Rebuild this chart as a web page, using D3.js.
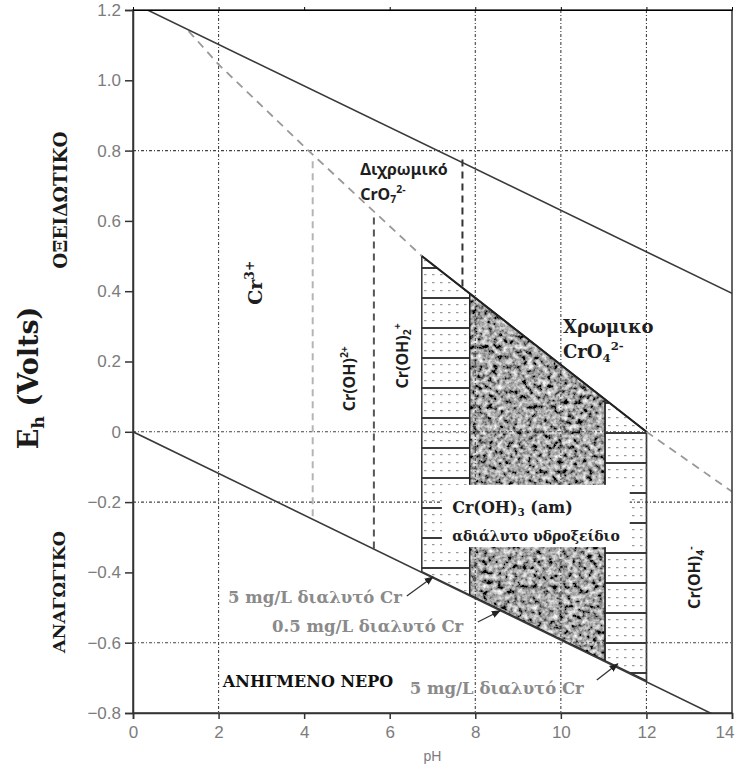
<!DOCTYPE html>
<html>
<head>
<meta charset="utf-8">
<script src="https://cdn.jsdelivr.net/npm/d3@7"></script>
<style>
  body { margin: 0; background: #fff; }
  svg { display: block; }
</style>
</head>
<body>
<svg id="chart" width="735" height="765"></svg>
<script>
// axes
const phTicks = [0, 2, 4, 6, 8, 10, 12, 14];
const ehTicks = [-0.8, -0.6, -0.4, -0.2, 0, 0.2, 0.4, 0.6, 0.8, 1.0, 1.2];
const phGrid = [2, 8, 10, 12];
const ehGrid = [0.8, 0, -0.2, -0.6];

// water stability limits, [pH, Eh]
const waterUpper = [[0, 1.22], [14, 0.394]];
const waterLower = [[0, 0], [14, -0.83]];

// Cr(III) / Cr(VI) boundary (dashed parts and the solid edge of the solid field)
const boundaryLeft = [[1.3, 1.14], [2, 1.045], [4.1, 0.80], [6.75, 0.50]];
const boundaryTop = [[6.75, 0.50], [12, 0]];
const boundaryRight = [[12, 0], [14, -0.17]];

// vertical species boundaries
const phLines = [
    {ph: 4.2, top: 0.77, bottom: -0.248, color: '#b5b5b5'},
    {ph: 5.63, top: 0.61, bottom: -0.332, color: '#555'},
    {ph: 7.7, top: 0.775, bottom: 0.41, color: '#333'}
];

// Cr(OH)3 fields: 5 mg/L outer field, 0.5 mg/L inner field
const field5 = [[6.75, 0.50], [6.75, -0.398], [12, -0.708], [12, 0]];
const field5Right = [[11.03, 0.092], [11.03, -0.651], [12, -0.708], [12, 0]];
const field05 = [[7.87, 0.393], [7.87, -0.464], [11.03, -0.651], [11.03, 0.092]];
const labelBox = [[7.22, -0.151], [11.61, -0.328]];

// species labels inside the plot
const species = [
    {text: 'Cr^{3+}', ph: 2.87, eh: 0.424, rot: true, font: 'serif', size: 19},
    {text: 'Cr(OH)^{2+}', ph: 5.05, eh: 0.151, rot: true, font: 'sans', size: 16},
    {text: 'Cr(OH)_{2}^{+}', ph: 6.29, eh: 0.216, rot: true, font: 'sans', size: 16},
    {text: 'Διχρωμικό', ph: 5.31, eh: 0.731, font: 'sans', size: 16},
    {text: 'CrO_{7}^{2-}', ph: 5.31, eh: 0.66, font: 'sans', size: 16},
    {text: 'Χρωμικο', ph: 10.05, eh: 0.282, font: 'serif', size: 18},
    {text: 'CrO_{4}^{2-}', ph: 10.05, eh: 0.211, font: 'serif', size: 18},
    {text: 'Cr(OH)_{3} (am)', ph: 7.46, eh: -0.23, font: 'serif', size: 16},
    {text: 'αδιάλυτο υδροξείδιο', ph: 7.46, eh: -0.31, font: 'serif', size: 14},
    {text: 'Cr(OH)_{4}^{-}', ph: 13.13, eh: -0.415, rot: true, font: 'sans', size: 16}
];

// concentration notes with arrows
const notes = [
    {text: '5 mg/L διαλυτό Cr', ph: 2.22, eh: -0.486, from: [6.40, -0.467], to: [7.01, -0.413]},
    {text: '0.5 mg/L διαλυτό Cr', ph: 3.25, eh: -0.569, from: [8.06, -0.541], to: [8.58, -0.509]},
    {text: '5 mg/L διαλυτό Cr', ph: 6.47, eh: -0.745, from: [10.84, -0.706], to: [11.33, -0.66]}
];

const fonts = {
    serif: "'DejaVu Serif', serif",
    sans: "'Noto Sans', 'DejaVu Sans', sans-serif"
};

// text with _{sub} and ^{sup} parts
function richText(sel, str, size) {
    const re = /([_^])\{([^}]*)\}|([^_^]+)/g;
    let m, shift = 0;
    while ((m = re.exec(str))) {
        if (m[3]) {
            sel.append('tspan').attr('dy', -shift).text(m[3]);
            shift = 0;
        } else {
            const d = m[1] === '^' ? -0.42 * size : 0.22 * size;
            sel.append('tspan').attr('dy', d - shift).attr('font-size', size * 0.65).text(m[2]);
            shift = d;
        }
    }
}

function drawChart() {
    const svg = d3.select('#chart');
    const margin = {top: 10, right: 3, bottom: 52, left: 133};
    const width = +svg.attr('width') - margin.left - margin.right;
    const height = +svg.attr('height') - margin.top - margin.bottom;

    const x = d3.scaleLinear().domain([0, 14]).range([0, width]);
    const y = d3.scaleLinear().domain([-0.8, 1.2]).range([height, 0]);
    const line = d3.line().x(d => x(d[0])).y(d => y(d[1]));

    const defs = svg.append('defs');
    defs.append('clipPath').attr('id', 'plot-clip')
        .append('rect').attr('width', width).attr('height', height);

    // dotted pattern with horizontal rules, two phases
    [['band-l', 298 - margin.top], ['band-r', 433 - margin.top]].forEach(([id, off]) => {
        const p = defs.append('pattern').attr('id', id)
            .attr('patternUnits', 'userSpaceOnUse')
            .attr('width', 8).attr('height', 30)
            .attr('y', off % 30);
        p.append('rect').attr('width', 8).attr('height', 30).attr('fill', '#fff');
        [6, 14, 22].forEach(dy => p.append('rect')
            .attr('x', 3).attr('y', dy).attr('width', 2.5).attr('height', 1.2).attr('fill', '#999'));
        p.append('rect').attr('y', -1).attr('width', 8).attr('height', 2).attr('fill', '#3a3a3a');
        p.append('rect').attr('y', 29).attr('width', 8).attr('height', 1).attr('fill', '#3a3a3a');
    });

    // stony texture for the inner field
    const f = defs.append('filter').attr('id', 'rock')
        .attr('x', 0).attr('y', 0).attr('width', 1).attr('height', 1);
    f.append('feTurbulence').attr('type', 'fractalNoise')
        .attr('baseFrequency', 0.2).attr('numOctaves', 3).attr('seed', 7).attr('result', 'noise');
    f.append('feColorMatrix').attr('in', 'noise').attr('type', 'matrix')
        .attr('values', '1.7 0 0 0 -0.47  1.7 0 0 0 -0.47  1.7 0 0 0 -0.47  0 0 0 0 1')
        .attr('result', 'gray');
    f.append('feComposite').attr('in', 'gray').attr('in2', 'SourceGraphic').attr('operator', 'in');

    defs.append('marker').attr('id', 'arrow')
        .attr('viewBox', '0 0 10 10').attr('refX', 9).attr('refY', 5)
        .attr('markerWidth', 7).attr('markerHeight', 7)
        .attr('orient', 'auto')
        .append('path').attr('d', 'M0,1 L10,5 L0,9 Z').attr('fill', '#222');

    const g = svg.append('g')
        .attr('transform', `translate(${margin.left},${margin.top})`);
    const plot = g.append('g').attr('clip-path', 'url(#plot-clip)');

    // fields
    plot.append('path').attr('d', line(field5) + 'Z')
        .attr('fill', 'url(#band-l)').attr('stroke', '#333').attr('stroke-width', 1.5);
    plot.append('path').attr('d', line(field5Right) + 'Z')
        .attr('fill', 'url(#band-r)').attr('stroke', '#333').attr('stroke-width', 1.5);
    plot.append('path').attr('d', line(field05) + 'Z')
        .attr('fill', '#000').attr('filter', 'url(#rock)');
    plot.append('path').attr('d', line(field05) + 'Z')
        .attr('fill', 'none').attr('stroke', '#222').attr('stroke-width', 1.5);

    // grid
    plot.selectAll('.vgrid').data(phGrid).enter().append('line')
        .attr('x1', d => x(d)).attr('x2', d => x(d))
        .attr('y1', 0).attr('y2', height)
        .attr('stroke', '#444').attr('stroke-width', 1.1).attr('stroke-dasharray', '3,2,1,2');
    plot.selectAll('.hgrid').data(ehGrid).enter().append('line')
        .attr('x1', 0).attr('x2', width)
        .attr('y1', d => y(d)).attr('y2', d => y(d))
        .attr('stroke', '#444').attr('stroke-width', 1.1).attr('stroke-dasharray', '3,2,1,2');

    // boundaries
    plot.append('path').attr('d', line(boundaryLeft)).attr('fill', 'none')
        .attr('stroke', '#999').attr('stroke-width', 1.8).attr('stroke-dasharray', '8,6');
    plot.append('path').attr('d', line(boundaryRight)).attr('fill', 'none')
        .attr('stroke', '#999').attr('stroke-width', 1.8).attr('stroke-dasharray', '8,6');
    plot.append('path').attr('d', line(boundaryTop)).attr('fill', 'none')
        .attr('stroke', '#222').attr('stroke-width', 2);
    plot.selectAll('.phline').data(phLines).enter().append('line')
        .attr('x1', d => x(d.ph)).attr('x2', d => x(d.ph))
        .attr('y1', d => y(d.top)).attr('y2', d => y(d.bottom))
        .attr('stroke', d => d.color).attr('stroke-width', 2).attr('stroke-dasharray', '7,5');

    [waterUpper, waterLower].forEach(w => plot.append('path').attr('d', line(w))
        .attr('fill', 'none').attr('stroke', '#3a3a3a').attr('stroke-width', 1.6));

    // white box behind the Cr(OH)3 label
    plot.append('rect')
        .attr('x', x(labelBox[0][0])).attr('y', y(labelBox[0][1]))
        .attr('width', x(labelBox[1][0]) - x(labelBox[0][0]))
        .attr('height', y(labelBox[1][1]) - y(labelBox[0][1]))
        .attr('fill', '#fff');

    // frame and axes
    g.append('rect').attr('width', width).attr('height', height)
        .attr('fill', 'none').attr('stroke', '#333').attr('stroke-width', 1.5);

    const yAxis = g.append('g')
        .call(d3.axisLeft(y).tickValues(ehTicks).tickSize(8).tickPadding(4)
            .tickFormat(d => d === 0 ? '0' : d3.format('.1f')(d)));
    const xAxis = g.append('g')
        .attr('transform', `translate(0,${height})`)
        .call(d3.axisBottom(x).tickValues(phTicks).tickSize(6).tickPadding(7));
    g.append('g').call(d3.axisTop(x).tickValues(phTicks).tickSize(3).tickFormat(''));
    [yAxis, xAxis].forEach(a => {
        a.select('.domain').attr('stroke', '#333').attr('stroke-width', 1.5);
        a.selectAll('.tick line').attr('stroke', '#333').attr('stroke-width', 1.5);
        a.selectAll('text').attr('fill', '#7c7c7c')
            .style('font-family', "'Liberation Sans', Arial, sans-serif").style('font-size', '17px');
    });
    // last pH label sits on the right edge
    xAxis.selectAll('.tick text').filter(d => d === 14).attr('text-anchor', 'end').attr('x', 2);

    g.append('text')
        .attr('x', x(7)).attr('y', height + 48)
        .attr('text-anchor', 'middle').attr('fill', '#7c7c7c')
        .style('font-family', "'Liberation Sans', Arial, sans-serif").style('font-size', '14px')
        .text('pH');

    // species labels
    species.forEach(s => {
        const t = g.append('text')
            .attr('fill', '#1e1e1e')
            .attr('font-weight', 'bold')
            .style('font-family', fonts[s.font])
            .style('font-size', s.size + 'px');
        if (s.rot) {
            t.attr('transform', `translate(${x(s.ph)},${y(s.eh)}) rotate(-90)`)
                .attr('text-anchor', 'middle')
                .attr('y', s.size * 0.35);
        } else {
            t.attr('x', x(s.ph)).attr('y', y(s.eh));
        }
        richText(t, s.text, s.size);
    });

    // concentration notes
    notes.forEach(n => {
        g.append('text')
            .attr('x', x(n.ph)).attr('y', y(n.eh))
            .attr('fill', '#8a8a8a').attr('font-weight', 'bold')
            .style('font-family', fonts.serif).style('font-size', '16.5px')
            .text(n.text);
        g.append('path').attr('d', line([n.from, n.to]))
            .attr('stroke', '#333').attr('stroke-width', 1.3)
            .attr('marker-end', 'url(#arrow)');
    });

    g.append('text')
        .attr('x', x(2.1)).attr('y', y(-0.725))
        .attr('fill', '#111').attr('font-weight', 'bold')
        .style('font-family', fonts.serif).style('font-size', '16px')
        .text('ΑΝΗΓΜΕΝΟ ΝΕΡΟ');

    // side titles
    const side = [
        {text: 'ΟΞΕΙΔΩΤΙΚΟ', x: 61, y: 200, size: 18.5},
        {text: 'E_{h} (Volts)', x: 29, y: 378, size: 27},
        {text: 'ΑΝΑΓΩΓΙΚΟ', x: 59, y: 592, size: 17.5}
    ];
    side.forEach(s => {
        const t = svg.append('text')
            .attr('transform', `translate(${s.x},${s.y}) rotate(-90)`)
            .attr('text-anchor', 'middle').attr('y', s.size * 0.35)
            .attr('fill', '#1a1a1a').attr('font-weight', 'bold')
            .style('font-family', fonts.serif).style('font-size', s.size + 'px');
        richText(t, s.text, s.size);
    });
}

drawChart();
</script>
</body>
</html>
